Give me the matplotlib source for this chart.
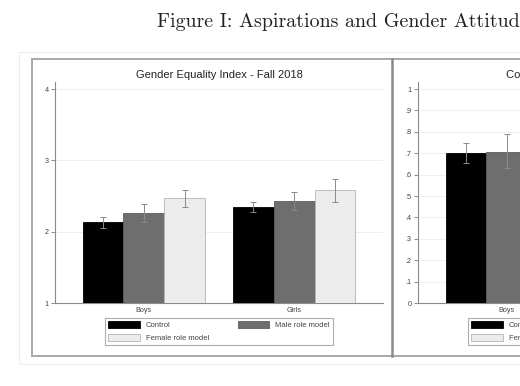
import numpy as np
import matplotlib
matplotlib.use("Agg")
import matplotlib.pyplot as plt
from matplotlib.patches import Patch, Rectangle
from matplotlib.lines import Line2D

# data
groups = ["Boys", "Girls"]
arms = ["Control", "Male role model", "Female role model"]

gei_mean = [[2.13, 2.26, 2.47], [2.34, 2.43, 2.58]]
gei_lo = [[2.05, 2.13, 2.35], [2.27, 2.31, 2.42]]
gei_hi = [[2.21, 2.39, 2.58], [2.42, 2.56, 2.74]]

col_mean = [[0.70, 0.707, 0.72], [0.74, 0.75, 0.78]]
col_lo = [[0.656, 0.63, 0.66], [0.69, 0.70, 0.73]]
col_hi = [[0.746, 0.79, 0.78], [0.79, 0.80, 0.83]]

gei_ticks = [1, 2, 3, 4]
col_ticks = [0, .1, .2, .3, .4, .5, .6, .7, .8, .9, 1]
col_ticklabels = ["0", ".1", ".2", ".3", ".4", ".5", ".6", ".7", ".8", ".9", "1"]

fills = ["#000000", "#6e6e6e", "#ececec"]
edges = ["#000000", "#5c5c5c", "#b4b4b4"]

W, H = 520, 386
fig = plt.figure(figsize=(W / 100, H / 100), dpi=100)
plt.rcParams['font.family'] = ['Liberation Sans', 'DejaVu Sans']


def fx(px):
    return px / W


def fy(py):
    return 1 - py / H


gap = 0.675
centers = [gap + 1.5, 2 * gap + 4.5]


def panel(left, ylim, ticks, ticklabels, mean, lo, hi, title):
    ax = fig.add_axes([fx(left), fy(303), fx(328), (303 - 82) / H])
    for g in range(2):
        for k in range(3):
            x = centers[g] + (k - 1)
            ax.bar(x, mean[g][k] - ylim[0], bottom=ylim[0], width=1.0,
                   color=fills[k], edgecolor=edges[k], linewidth=0.6, zorder=3)
            ax.errorbar(x, mean[g][k], yerr=[[mean[g][k] - lo[g][k]], [hi[g][k] - mean[g][k]]],
                        fmt="none", ecolor="#8a8a8a", elinewidth=0.7, capsize=2, capthick=0.7, zorder=4)
    ax.set_xlim(0, 6 + 3 * gap)
    ax.set_ylim(*ylim)
    ax.set_yticks(ticks)
    ax.set_yticklabels(ticklabels)
    ax.set_xticks(centers)
    ax.set_xticklabels(groups)
    ax.tick_params(axis="x", length=0, pad=3, labelsize=5.2, labelcolor="#444444")
    ax.tick_params(axis="y", length=3, width=0.6, color="#777777", pad=1.5,
                   labelsize=5.2, labelcolor="#444444")
    for s in ["top", "right"]:
        ax.spines[s].set_visible(False)
    ax.spines["left"].set_color("#8a8a8a")
    ax.spines["bottom"].set_color("#8a8a8a")
    ax.spines["left"].set_linewidth(0.8)
    ax.spines["bottom"].set_linewidth(0.8)
    ax.yaxis.grid(True, color="#ececec", linewidth=0.6)
    ax.set_axisbelow(True)
    ax.set_title(title, fontsize=8.0, color="#222222", pad=2.8)

    handles = [Patch(facecolor=fills[0], edgecolor=edges[0], linewidth=0.6, label=arms[0]),
               Patch(facecolor=fills[2], edgecolor=edges[2], linewidth=0.6, label=arms[2]),
               Patch(facecolor=fills[1], edgecolor=edges[1], linewidth=0.6, label=arms[1])]
    leg = fig.legend(handles=handles, ncol=2, loc="upper left",
                     bbox_to_anchor=(fx(left + 50), fy(318) - 0.08, fx(228), 0.08), mode="expand",
                     fontsize=5.5, handlelength=4.1, handleheight=1.0, handletextpad=0.8,
                     labelspacing=0.55, borderpad=0.45, borderaxespad=0, columnspacing=1.0,
                     fancybox=False, frameon=True)
    leg.get_frame().set_edgecolor("#9a9a9a")
    leg.get_frame().set_linewidth(0.8)
    for t in leg.get_texts():
        t.set_color("#444444")
    return ax


panel(55, (1, 4.1), gei_ticks, [str(t) for t in gei_ticks],
      gei_mean, gei_lo, gei_hi, "Gender Equality Index - Fall 2018")
panel(418, (0, 1.033), col_ticks, col_ticklabels,
      col_mean, col_lo, col_hi, "College Aspirations - Fall 2018")

# outer faint box and panel frames
fig.add_artist(Rectangle((fx(19), fy(364)), fx(600), (364 - 52) / H, transform=fig.transFigure,
                         facecolor="none", edgecolor="#eeeeee", linewidth=0.8))
frame = dict(transform=fig.transFigure, color="#a8a8a8", linewidth=1.4)
fig.add_artist(Line2D([fx(32), 1], [fy(59), fy(59)], **frame))
fig.add_artist(Line2D([fx(32), 1], [fy(356), fy(356)], **frame))
fig.add_artist(Line2D([fx(32), fx(32)], [fy(59), fy(356)], **frame))
fig.add_artist(Line2D([fx(392), fx(392)], [fy(59), fy(356)], transform=fig.transFigure,
                      color="#8a8a8a", linewidth=1.8))

fig.text(fx(157), fy(22), "Figure I: Aspirations and Gender Attitudes", family="cmr10",
         fontsize=14.4, ha="left", va="center", color="#222222")

fig.savefig("out.png", dpi=100)
